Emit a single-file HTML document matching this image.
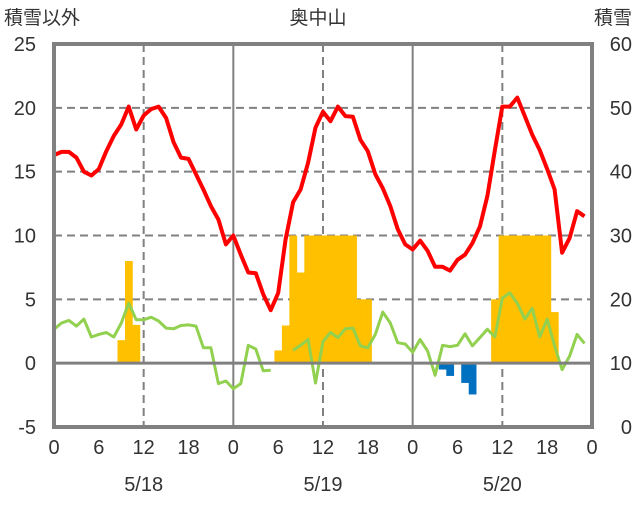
<!DOCTYPE html>
<html><head><meta charset="utf-8"><style>
body{margin:0;background:#fff;}
svg text{font-family:"Liberation Sans","Noto Sans CJK JP",sans-serif;fill:#333;}
</style></head><body>
<svg id="chart" width="636" height="501" xmlns="http://www.w3.org/2000/svg">
<g id="grid"></g>
<g id="bars"></g>
<g id="lines"></g>
<g id="axes"></g>
<text x="4" y="24" font-size="19">積雪以外</text>
<text x="318" y="24" font-size="19" text-anchor="middle">奥中山</text>
<text x="632" y="24" font-size="19" text-anchor="end">積雪</text>
</svg>
<script>
const leftTicks=[25,20,15,10,5,0,-5];
const rightTicks=[60,50,40,30,20,10,0];
const hourLabels=[0,6,12,18,0,6,12,18,0,6,12,18,0];
const dateLabels=["5/18","5/19","5/20"];
const redSeries=[16.3,16.55,16.55,16.1,15.0,14.7,15.2,16.6,17.8,18.7,20.1,18.3,19.4,19.9,20.1,19.2,17.3,16.1,16.0,14.8,13.6,12.3,11.25,9.3,
10.0,8.5,7.1,7.05,5.4,4.15,5.5,9.7,12.6,13.6,15.7,18.45,19.7,18.95,20.1,19.35,19.3,17.5,16.6,14.8,13.7,12.3,10.5,9.3,
8.9,9.6,8.8,7.55,7.55,7.25,8.1,8.5,9.4,10.7,13.1,16.7,20.1,20.1,20.8,19.35,17.9,16.7,15.2,13.6,8.65,9.8,11.9,11.5];
const greenSeries=[2.65,3.15,3.35,2.9,3.45,2.05,2.25,2.4,2.05,3.15,4.7,3.4,3.4,3.6,3.3,2.75,2.7,2.95,3.0,2.9,1.2,1.2,-1.6,-1.4,
-2.0,-1.6,1.4,1.1,-0.6,-0.55,null,null,1.0,1.4,1.85,-1.55,1.7,2.4,2.0,2.7,2.75,1.35,1.2,2.25,4.0,3.15,1.6,1.5,
0.85,1.85,0.95,-0.95,1.4,1.3,1.4,2.3,1.35,2.0,2.65,2.05,5.1,5.5,4.7,3.45,4.3,2.05,3.45,1.35,-0.5,0.55,2.25,1.55];
const barHours=[9,10,11,30,31,32,33,34,35,36,37,38,39,40,41,42,52,53,55,56,59,60,61,62,63,64,65,66,67];
const barValues=[1.8,8,3,1.0,2.95,10,7.1,10,10,10,10,10,10,10,5,5,-0.5,-1.0,-1.55,-2.45,5,10,10,10,10,10,10,10,4.0];

const X0=54,X1=592,Y0=44,Y1=427;
const xs=h=>X0+(X1-X0)*h/72;
const yL=v=>Y1-(Y1-Y0)*(v+5)/30;
const yR=v=>Y1-(Y1-Y0)*v/60;
const NS="http://www.w3.org/2000/svg";
function mk(tag,parent,attrs){const e=document.createElementNS(NS,tag);for(const k in attrs)e.setAttribute(k,attrs[k]);parent.appendChild(e);return e;}
const grid=document.getElementById('grid'),bars=document.getElementById('bars'),lines=document.getElementById('lines'),axes=document.getElementById('axes');

[20,15,10,5].forEach(v=>{
  const l=mk('line',grid,{x1:X0,x2:X1,y1:yL(v),y2:yL(v),stroke:'#808080','stroke-width':2,'stroke-dasharray':'8,5'});
  
  
});
[12,36,60].forEach(h=>{
  const l=mk('line',grid,{x1:xs(h),x2:xs(h),y1:Y0,y2:Y1,stroke:'#808080','stroke-width':2,'stroke-dasharray':'8,5'});
  
  
});
[24,48].forEach(h=>{
  const l=mk('line',grid,{x1:xs(h),x2:xs(h),y1:Y0,y2:Y1,stroke:'#808080','stroke-width':2});
  
  
});

const bw=(X1-X0)/72;
barHours.forEach((h,i)=>{
  const v=barValues[i];
  const y=Math.min(yL(v),yL(0)),hgt=Math.abs(yL(v)-yL(0));
  const r=mk('rect',bars,{x:xs(h)-bw/2,y:y,width:bw+0.3,height:hgt,fill:v>=0?'#FFC000':'#0070C0'});
  
  
});

const zl=mk('line',axes,{x1:X0,x2:X1,y1:yL(0),y2:yL(0),stroke:'#808080','stroke-width':3});



function pathOf(arr){let d='',pen=false;arr.forEach((v,i)=>{if(v===null){pen=false;return;}d+=(pen?'L':'M')+xs(i).toFixed(1)+','+yL(v).toFixed(1);pen=true;});return d;}
const g=mk('path',lines,{d:pathOf(greenSeries),fill:'none',stroke:'#92D050','stroke-width':3,'stroke-linejoin':'round'});


const r=mk('path',lines,{d:pathOf(redSeries),fill:'none',stroke:'#FF0000','stroke-width':4,'stroke-linejoin':'round'});



const fr=mk('rect',axes,{x:X0,y:Y0,width:X1-X0,height:Y1-Y0,fill:'none',stroke:'#808080','stroke-width':4});



leftTicks.forEach(v=>{
  const t=mk('text',axes,{x:36,y:yL(v)+7,'font-size':20,'text-anchor':'end'});t.textContent=v;
  
  
});
rightTicks.forEach(v=>{
  const t=mk('text',axes,{x:632,y:yR(v)+7,'font-size':20,'text-anchor':'end'});t.textContent=v;
  
  
});
hourLabels.forEach((v,i)=>{
  const t=mk('text',axes,{x:xs(i*6),y:454,'font-size':20,'text-anchor':'middle'});t.textContent=v;
  
  
});
dateLabels.forEach((v,i)=>{
  const t=mk('text',axes,{x:xs(i*24+12),y:491,'font-size':20,'text-anchor':'middle'});t.textContent=v;
  
  
});
</script>
</body></html>
